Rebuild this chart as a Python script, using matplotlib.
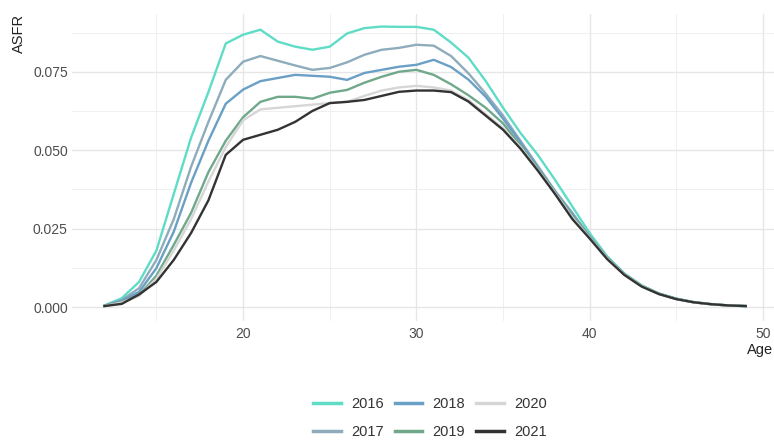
import matplotlib.pyplot as plt
from matplotlib.ticker import MultipleLocator

plt.rcParams['font.family'] = ['Liberation Sans', 'DejaVu Sans']

ages = list(range(12, 50))

# ASFR por ano
asfr_2016 = [0.0005, 0.0028, 0.0080, 0.0180, 0.0360, 0.0540, 0.0685, 0.0840, 0.0868, 0.0884,
             0.0846, 0.0830, 0.0820, 0.0830, 0.0872, 0.0889, 0.0894, 0.0893, 0.0893, 0.0884,
             0.0843, 0.0795, 0.0720, 0.0635, 0.0555, 0.0485, 0.0405, 0.0320, 0.0235, 0.0162,
             0.0107, 0.0069, 0.0043, 0.0027, 0.0016, 0.0009, 0.0005, 0.0003]
asfr_2017 = [0.0004, 0.0022, 0.0060, 0.0150, 0.0280, 0.0447, 0.0590, 0.0724, 0.0782, 0.0800,
             0.0785, 0.0770, 0.0756, 0.0762, 0.0780, 0.0804, 0.0820, 0.0826, 0.0836, 0.0833,
             0.0800, 0.0745, 0.0680, 0.0610, 0.0530, 0.0450, 0.0370, 0.0300, 0.0225, 0.0158,
             0.0105, 0.0068, 0.0042, 0.0026, 0.0015, 0.0009, 0.0005, 0.0003]
asfr_2018 = [0.0004, 0.0020, 0.0048, 0.0124, 0.0240, 0.0396, 0.0530, 0.0648, 0.0693, 0.0720,
             0.0730, 0.0740, 0.0737, 0.0734, 0.0724, 0.0746, 0.0756, 0.0766, 0.0772, 0.0788,
             0.0765, 0.0725, 0.0670, 0.0600, 0.0525, 0.0445, 0.0368, 0.0295, 0.0223, 0.0157,
             0.0104, 0.0067, 0.0042, 0.0026, 0.0015, 0.0009, 0.0005, 0.0003]
asfr_2019 = [0.0003, 0.0016, 0.0038, 0.0100, 0.0198, 0.0300, 0.0430, 0.0530, 0.0605, 0.0654,
             0.0670, 0.0670, 0.0664, 0.0683, 0.0692, 0.0715, 0.0734, 0.0750, 0.0756, 0.0740,
             0.0710, 0.0675, 0.0635, 0.0585, 0.0515, 0.0440, 0.0365, 0.0290, 0.0222, 0.0156,
             0.0104, 0.0067, 0.0042, 0.0026, 0.0015, 0.0009, 0.0005, 0.0003]
asfr_2020 = [0.0003, 0.0014, 0.0035, 0.0090, 0.0180, 0.0280, 0.0400, 0.0510, 0.0595, 0.0630,
             0.0635, 0.0640, 0.0645, 0.0650, 0.0654, 0.0673, 0.0690, 0.0700, 0.0705, 0.0700,
             0.0690, 0.0660, 0.0615, 0.0570, 0.0510, 0.0437, 0.0363, 0.0285, 0.0220, 0.0155,
             0.0103, 0.0066, 0.0041, 0.0025, 0.0015, 0.0009, 0.0005, 0.0003]
asfr_2021 = [0.0003, 0.0010, 0.0040, 0.0080, 0.0150, 0.0236, 0.0340, 0.0485, 0.0533, 0.0549,
             0.0565, 0.0590, 0.0625, 0.0650, 0.0654, 0.0660, 0.0673, 0.0686, 0.0690, 0.0690,
             0.0685, 0.0655, 0.0610, 0.0565, 0.0505, 0.0435, 0.0360, 0.0280, 0.0218, 0.0153,
             0.0102, 0.0065, 0.0041, 0.0025, 0.0015, 0.0009, 0.0005, 0.0003]

anos = ['2016', '2017', '2018', '2019', '2020', '2021']
series = [asfr_2016, asfr_2017, asfr_2018, asfr_2019, asfr_2020, asfr_2021]
cores = ['#5fdcc6', '#8eacbb', '#6a9fc6', '#6fa88a', '#d6d6d6', '#333333']

fig = plt.figure(figsize=(7.74, 4.44), dpi=100)
ax = fig.add_axes([72 / 774, 123 / 444, 702 / 774, 307 / 444])

for ano, vals, cor in zip(anos, series, cores):
    ax.plot(ages, vals, color=cor, lw=1.7, label=ano, solid_joinstyle='round')

ax.set_xlim(10.13, 50.63)
ax.set_ylim(-0.00446, 0.0934)
ax.set_xticks([20, 30, 40, 50])
ax.set_yticks([0, 0.025, 0.05, 0.075])
ax.set_yticklabels(['0.000', '0.025', '0.050', '0.075'])
ax.xaxis.set_minor_locator(MultipleLocator(5))
ax.yaxis.set_minor_locator(MultipleLocator(0.0125))
ax.grid(which='major', color='#e6e6e6', lw=1.0)
ax.grid(which='minor', color='#efefef', lw=0.7)
ax.set_axisbelow(True)
for s in ax.spines.values():
    s.set_visible(False)
ax.tick_params(which='both', length=0, labelsize=10, labelcolor='#4d4d4d')
ax.tick_params(axis='y', pad=3)
ax.tick_params(axis='x', pad=4)

fig.text(773 / 774, 1 - 350 / 444, 'Age', ha='right', va='center', fontsize=10.5, color='#222222')
fig.text(19 / 774, 1 - 14 / 444, 'ASFR', ha='center', va='top', rotation=90, fontsize=10.5,
         color='#222222')

fig.legend(loc='center', bbox_to_anchor=(430 / 774, 1 - 418 / 444), ncol=3, frameon=False,
           fontsize=10.5, handlelength=1.9, handletextpad=0.7, columnspacing=0.75,
           labelspacing=1.0, labelcolor='#333333')
leg = fig.legends[0]
for h in leg.legend_handles:
    h.set_linewidth(2.5)

fig.savefig('out.png', dpi=100)
